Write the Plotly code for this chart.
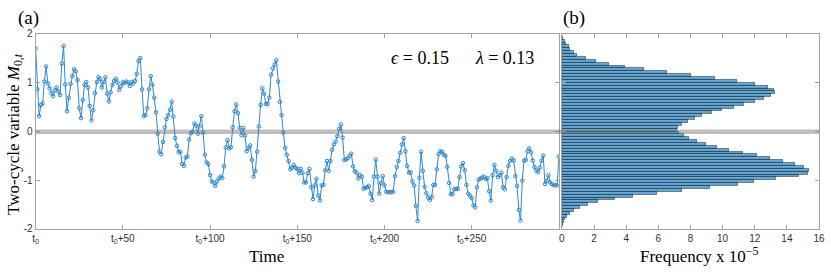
import plotly.graph_objects as go

# ---------------- data ----------------
time_labels = ["t<sub>0</sub>", "t<sub>0</sub>+50", "t<sub>0</sub>+100",
               "t<sub>0</sub>+150", "t<sub>0</sub>+200", "t<sub>0</sub>+250"]
time_ticks = [0, 50, 100, 150, 200, 250]

m_values = [
    # t = 0 .. 73
    1.70, 0.86, 0.31, 0.54, 0.57, 1.02, 1.33, 0.98, 0.88, 0.78,
    0.72, 0.84, 0.90, 0.82, 0.74, 1.39, 1.75, 0.96, 0.41, 0.69,
    0.97, 1.13, 1.27, 1.23, 1.05, 0.47, 0.27, 0.64, 0.95, 1.01,
    0.90, 0.52, 0.22, 0.43, 0.78, 1.01, 1.11, 1.07, 0.90, 1.01,
    1.11, 0.77, 0.61, 0.80, 0.95, 1.03, 1.08, 1.00, 0.85, 0.92,
    1.00, 0.99, 1.02, 1.00, 0.93, 1.01, 0.98, 1.03, 1.18, 1.44,
    1.50, 0.86, 0.31, 0.33, 0.47, 0.86, 1.13, 0.95, 0.69, 0.39,
    -0.05, -0.42, -0.47, -0.22,
    # t = 74 .. 148
    0.08, 0.25, 0.33, 0.44, 0.61, 0.30, -0.14, -0.30, -0.43, -0.42,
    -0.67, -0.71, -0.54, -0.52, -0.17, -0.04, -0.01, 0.16, 0.12, -0.05,
    0.10, 0.31, -0.03, -0.48, -0.64, -0.67, -0.90, -1.03, -1.05, -1.12,
    -1.03, -0.97, -0.93, -0.96, -0.72, -0.33, -0.18, -0.35, -0.33, 0.08,
    0.41, 0.55, 0.37, 0.07, -0.08, 0.07, -0.09, -0.41, -0.34, -0.29,
    -0.59, -0.93, -0.81, -0.42, 0.10, 0.54, 0.88, 0.77, 0.56, 0.56,
    0.69, 1.16, 1.29, 1.37, 1.46, 1.02, 0.60, 0.33, -0.03, -0.34,
    -0.48, -0.61, -0.78, -0.75, -0.69,
    # t = 149 .. 223
    -0.75, -0.77, -0.86, -0.77, -0.85, -1.05, -1.05, -0.86, -0.77, -1.15,
    -1.39, -1.11, -0.97, -1.32, -1.42, -1.11, -1.10, -0.80, -0.61, -0.81,
    -0.61, -0.38, -0.27, -0.21, -0.10, 0.05, 0.14, -0.13, -0.59, -0.58,
    -0.55, -0.50, -0.46, -0.72, -0.82, -0.85, -0.97, -0.90, -0.93, -1.18,
    -1.16, -1.15, -1.12, -1.28, -1.41, -0.93, -0.58, -0.93, -1.28, -1.06,
    -0.92, -1.11, -1.24, -1.25, -1.25, -1.25, -1.24, -0.92, -0.73, -0.61,
    -0.44, -0.27, -0.14, -0.41, -0.71, -0.85, -0.84, -1.03, -1.11, -1.53,
    -1.84, -0.95, -0.42, -0.81, -1.14,
    # t = 224 .. 300
    -1.27, -1.36, -1.41, -1.35, -1.10, -1.10, -0.78, -0.47, -0.41, -0.42,
    -0.48, -0.50, -0.73, -1.06, -1.29, -1.29, -1.19, -1.18, -1.18, -0.94,
    -0.72, -0.65, -0.80, -1.10, -1.28, -1.32, -1.37, -1.52, -1.56, -1.15,
    -0.99, -0.97, -0.95, -0.93, -0.98, -0.96, -1.23, -1.42, -0.90, -0.69,
    -0.81, -0.94, -0.90, -0.85, -1.15, -1.19, -0.94, -0.71, -0.61, -0.56,
    -0.60, -0.92, -1.12, -1.61, -1.83, -1.01, -0.60, -0.59, -0.41, -0.35,
    -0.43, -0.60, -0.73, -0.80, -0.84, -0.75, -0.60, -0.50, -1.08, -1.02,
    -0.90, -1.05, -1.08, -1.11, -1.10, -1.11, -0.51,
]
time_steps = list(range(len(m_values)))

# histogram (frequency x 1e-5), bins from top (+2) to bottom (-2)
hist_bin_count = 68
hist_freq = [
    0.02, 0.06, 0.16, 0.25, 0.41, 0.51, 0.72, 0.94, 1.50, 2.11,
    2.93, 3.94, 5.13, 6.52, 8.04, 9.54, 10.91, 12.02, 12.82, 13.17,
    13.25, 13.03, 12.59, 12.00, 11.34, 10.67, 9.95, 9.33, 8.72, 8.25,
    7.84, 7.49, 7.24, 7.14,
    7.28, 7.56, 7.90, 8.41, 8.96, 9.64, 10.42, 11.24, 12.10, 12.92,
    13.74, 14.50, 15.08, 15.34, 15.28, 14.77, 13.33, 11.94, 10.95, 9.23,
    7.49, 5.91, 4.41, 3.28, 2.26, 1.64, 1.15, 0.76, 0.51, 0.33,
    0.21, 0.10, 0.04, 0.01,
]
bin_w = 4.0 / hist_bin_count
hist_centers = [2.0 - bin_w * (i + 0.5) for i in range(hist_bin_count)]
freq_ticks = [0, 2, 4, 6, 8, 10, 12, 14, 16]

# ---------------- figure ----------------
W, H = 831, 274
def px(x):
    return x / W
def py(y):
    return (H - y) / H

LINE_BLUE = "#2f87cc"
AX_COL = "#a3a3a3"
TICK_FONT = dict(family="Liberation Sans, Arial, sans-serif", size=10, color="#333333")
SERIF = "Liberation Serif, Times New Roman, serif"

fig = go.Figure()
fig.add_trace(go.Scatter(
    x=time_steps, y=m_values, mode="lines+markers",
    line=dict(color=LINE_BLUE, width=1),
    marker=dict(symbol="circle-open", size=3.5, color=LINE_BLUE, line=dict(width=1)),
    xaxis="x", yaxis="y", showlegend=False,
))
fig.add_trace(go.Bar(
    x=hist_freq, y=hist_centers, orientation="h", width=bin_w,
    marker=dict(color="rgba(0,114,189,0.6)", line=dict(color="rgba(20,30,45,0.85)", width=0.6)),
    xaxis="x2", yaxis="y2", showlegend=False,
))

axis_common = dict(showline=True, mirror="ticks", linecolor=AX_COL, linewidth=1,
                   ticks="inside", ticklen=4, tickcolor=AX_COL, tickwidth=1,
                   showgrid=False, zeroline=False, tickfont=TICK_FONT,
                   ticklabeloverflow="allow")

fig.update_layout(
    width=W, height=H, margin=dict(l=0, r=0, t=0, b=0),
    paper_bgcolor="white", plot_bgcolor="white", bargap=0,
    xaxis=dict(domain=[px(33), px(562)], range=[0, 300], tickvals=time_ticks,
               ticktext=time_labels, anchor="y", **axis_common),
    yaxis=dict(domain=[py(233), py(29)], range=[-2, 2], tickvals=[-2, -1, 0, 1, 2],
               ticktext=["-2", "-1", "0", "1", "2"], anchor="x", **axis_common),
    xaxis2=dict(domain=[px(565), px(825)], range=[0, 16], tickvals=freq_ticks,
                anchor="y2", **axis_common),
    yaxis2=dict(domain=[py(233), py(29)], range=[-2, 2], tickvals=[-2, -1, 0, 1, 2],
                showticklabels=False, anchor="x2", **axis_common),
)

# grey zero band spanning both panels
fig.add_shape(type="rect", xref="paper", yref="y", x0=px(33), x1=px(825),
              y0=-0.058, y1=0.035, line=dict(width=0),
              fillcolor="rgba(110,110,110,0.45)", layer="above")

NB = "\u00a0"
ann = [
    dict(text="(a)", x=px(26), y=py(13), size=19),
    dict(text="(b)", x=px(577), y=py(13), size=19),
    dict(text="Time", x=px(266), y=py(262), size=17),
    dict(text="Frequency x 10<sup>\u22125</sup>", x=px(704), y=py(260), size=17),
    dict(text="<i>\u03f5</i> = 0.15" + NB * 6 + "<i>\u03bb</i> = 0.13",
         x=px(465), y=py(54), size=18),
]
for a in ann:
    fig.add_annotation(text=a["text"], x=a["x"], y=a["y"], xref="paper", yref="paper",
                       showarrow=False, xanchor="center", yanchor="middle",
                       font=dict(family=SERIF, size=a["size"], color="black"))
fig.add_annotation(text="Two-cycle variable <i>M</i><sub>0,<i>t</i></sub>",
                   x=px(12), y=py(134), xref="paper", yref="paper", textangle=-90,
                   showarrow=False, xanchor="center", yanchor="middle",
                   font=dict(family=SERIF, size=17, color="black"))

fig.write_html("out.html", config={"displayModeBar": False},
               post_script="document.body.style.margin='0';document.body.style.overflow='hidden';")
